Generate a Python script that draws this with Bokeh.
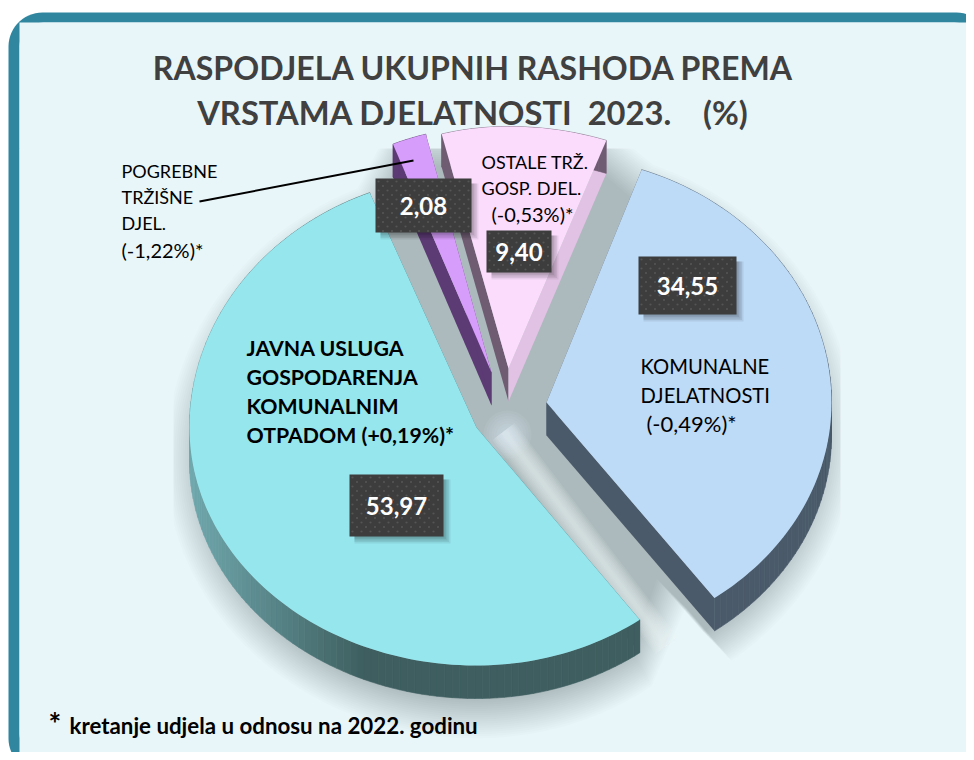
import numpy as np
from bokeh.plotting import figure
from bokeh.models import Range1d
from bokeh.core.properties import value
from bokeh.embed import file_html
from bokeh.resources import INLINE

# ---- data ----
slice_names = ["KOMUNALNE DJELATNOSTI", "JAVNA USLUGA", "POGREBNE", "OSTALE"]
shares = [34.55, 53.97, 2.08, 9.40]
share_labels = ["34,55", "53,97", "2,08", "9,40"]
title_lines = ["RASPODJELA UKUPNIH RASHODA PREMA", "VRSTAMA DJELATNOSTI\u00a0\u00a02023.\u00a0\u00a0\u00a0\u00a0(%)"]
label_komunalne = ["KOMUNALNE", "DJELATNOSTI", "(-0,49%)*"]
label_javna = ["JAVNA USLUGA", "GOSPODARENJA", "KOMUNALNIM", "OTPADOM (+0,19%)*"]
label_pogrebne = ["POGREBNE", "TRŽIŠNE", "DJEL.", "(-1,22%)*"]
label_ostale = ["OSTALE TRŽ.", "GOSP. DJEL.", "(-0,53%)*"]
footnote = "kretanje udjela u odnosu na 2022. godinu"

# ---- layout ----
W, H = 966, 752
BG, BORDER = "#e9f6f9", "#31869f"
START = 19.5
DEPTH = 33.0
apex = [(546, 402), (476, 427), (491, 372), (508, 368)]
# radii per slice: x left, x right, y up, y down
radii = [(285, 285, 247, 242), (287, 277, 253, 238), (265, 265, 246, 246), (270, 293, 242, 242)]
top_col = ["#bddaf6", "#96e6ee", "#d79dfa", "#fbdcfd"]
side_first = ["#4a5a6a", "#3f6264", "#5c3a74", "#6f5c72"]
side_last = ["#4a5a6a", "#3f6264", "#5c3a74", "#e2c2e4"]

p = figure(width=W, height=H, x_range=Range1d(0, W), y_range=Range1d(H, 0),
           output_backend="svg", toolbar_location=None, min_border=0,
           background_fill_color="white", border_fill_color="white", outline_line_color=None)
p.axis.visible = False
p.grid.visible = False


def rounded(x0, y0, x1, y1, r):
    xs, ys = [], []
    for cx, cy, a0 in [(x0 + r, y0 + r, 180), (x1 - r, y0 + r, 270), (x1 - r, y1 - r, 0), (x0 + r, y1 - r, 90)]:
        t = np.radians(np.linspace(a0, a0 + 90, 16))
        xs += list(cx + r * np.cos(t))
        ys += list(cy + r * np.sin(t))
    return xs, ys


x, y = rounded(8, 12, 990, 772, 34)
p.patch(x, y, fill_color=BORDER, line_color=None)
x, y = rounded(19, 22, 978, 757, 24)
p.patch(x, y, fill_color=BG, line_color=None)


def pt(i, th):
    t = np.radians(th)
    s, c_ = np.sin(t), np.cos(t)
    rxl, rxr, ryu, ryd = radii[i]
    a = apex[i]
    return a[0] + s * np.where(s < 0, rxl, rxr), a[1] - c_ * np.where(c_ > 0, ryu, ryd)


angs = []
c = START
for s in shares:
    angs.append((c, c + s * 3.6))
    c += s * 3.6

# ---- soft shadow ----
sc = (500.0, 425.0)
sx, sy = [], []
for i, (t0, t1) in enumerate(angs):
    th = np.linspace(t0, t1, max(6, int(t1 - t0)))
    ax, ay = pt(i, th)
    off = 15 + 17 * (1 - np.cos(np.radians(th)))
    sx += list(ax)
    sy += list(ay + off)
    if i == 0:
        sx.append(668.0)
        sy.append(590.0)
sx, sy = np.array(sx), np.array(sy)
dx, dy = sx - sc[0], sy - sc[1]
n = np.hypot(dx, dy)
for d in np.linspace(24, -16, 20):
    p.patch(sx + d * dx / n, sy + d * dy / n, fill_color="black", fill_alpha=0.0115, line_color=None)

# light band left free in the gap beside the largest slice
tipx, tipy = pt(1, angs[1][0])
bx0, by0 = apex[1][0] + 27.0, apex[1][1] + 4.0
bx1, by1 = float(tipx) + 27.0, float(tipy) + 26.0
ln = np.hypot(bx1 - bx0, by1 - by0)
nx, ny = (by1 - by0) / ln, -(bx1 - bx0) / ln
for w in np.linspace(14, 2, 9):
    p.patch([bx0 + nx * w, bx1 + nx * w, bx1 - nx * w, bx0 - nx * w],
            [by0 + ny * w, by1 + ny * w, by1 - ny * w, by0 - ny * w],
            fill_color=BG, fill_alpha=0.1, line_color=None)
for rr in np.linspace(24, 3, 9):
    t = np.linspace(0, 2 * np.pi, 40)
    p.patch(507 + rr * np.cos(t), 434 + rr * np.sin(t), fill_color=BG, fill_alpha=0.07, line_color=None)
p.quad(left=[19, 840, 19], right=[173, 978, 978], top=[148, 148, 22], bottom=[757, 757, 148],
       fill_color=BG, line_color=None)

# ---- slices ----
for i, (t0, t1) in enumerate(angs):
    a = apex[i]
    th = np.linspace(t0, t1, max(6, int((t1 - t0) / 1.5)))
    ax, ay = pt(i, th)
    p.patch([a[0], ax[0], ax[0], a[0]], [a[1], ay[0], ay[0] + DEPTH, a[1] + DEPTH],
            fill_color=side_first[i], line_color=None)
    p.patch([a[0], ax[-1], ax[-1], a[0]], [a[1], ay[-1], ay[-1] + DEPTH, a[1] + DEPTH],
            fill_color=side_last[i], line_color=None)
    for j in range(len(th) - 1):
        if i == 1:
            f = np.clip((ax[j] - 190) / 180.0, 0, 1)
            col0 = np.array([0x70, 0xa9, 0xae])
            col1 = np.array([0x3e, 0x5e, 0x5f])
            r, g, b = (col0 + (col1 - col0) * f).astype(int)
            col = f"#{r:02x}{g:02x}{b:02x}"
        else:
            col = side_first[i]
        p.patch([ax[j], ax[j + 1], ax[j + 1], ax[j]],
                [ay[j], ay[j + 1], ay[j + 1] + DEPTH, ay[j] + DEPTH],
                fill_color=col, line_color=col, line_width=0.6)
    p.patch([a[0]] + list(ax), [a[1]] + list(ay), fill_color=top_col[i], line_color=None)

p.line([199, 413], [201, 160], line_color="black", line_width=2)


def text_at(xp, yp, s, size, color="black", style="normal", font="Lato", align="left"):
    p.text([xp], [yp], text=[s], text_font=value(font), text_font_size=f"{size}px",
           text_font_style=style, text_color=color, text_align=align, text_baseline="middle")


text_at(473, 67, title_lines[0], 32.1, "#404040", "bold", "Lato", "center")
text_at(472.5, 112, title_lines[1], 32.7, "#404040", "bold", "Lato", "center")

boxes = [(638, 736, 256, 314), (349, 443, 474, 536), (375, 471, 178, 232), (486, 551, 230, 272)]
for lab, (l, r, t, b) in zip(share_labels, boxes):
    for k in np.linspace(7, 1, 5):
        p.quad(left=[l + 5], right=[r + k], top=[t + 5], bottom=[b + k],
               fill_color="black", fill_alpha=0.07, line_color=None)
    p.quad(left=[l], right=[r], top=[t], bottom=[b], fill_color="#3d3d3d", line_color=None)
    gx, gy = [], []
    for row, yy in enumerate(np.arange(t + 3, b - 1, 4.5)):
        for xx in np.arange(l + 3 + (row % 2) * 4.5, r - 1, 9):
            gx.append(xx)
            gy.append(yy)
    p.scatter(gx, gy, size=2.2, fill_color="#555555", line_color=None)
    text_at((l + r) / 2, (t + b) / 2 + 0.5, lab, 24, "white", "bold", "Lato", "center")

for yy, s, sz in zip([170, 196, 222, 249], label_pogrebne, [18, 18, 18, 20]):
    text_at(121, yy, s, sz)
for xx, yy, s, sz in zip([481, 481, 491], [161, 187, 213], label_ostale, [18, 18, 20]):
    text_at(xx, yy, s, sz)
for xx, yy, s, sz in zip([640, 640, 646], [365, 394, 423], label_komunalne, [20.2, 20.2, 22]):
    text_at(xx, yy, s, sz)
for yy, s in zip([347, 376, 405, 434], label_javna):
    text_at(246, yy, s, 21.3, style="bold")

text_at(48, 722, "*", 30, style="bold")
text_at(69, 725, footnote, 22.3, style="bold")

open("out.html", "w").write(file_html(p, INLINE))
